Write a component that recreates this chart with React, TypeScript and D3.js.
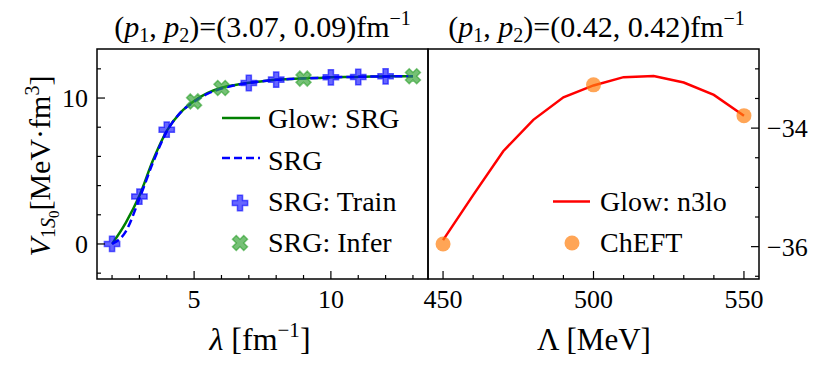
import React from 'react';
import * as d3 from 'd3';

// left panel: SRG evolution of the 1S0 matrix element vs lambda
const lambdaFine = [2, 2.5, 3, 3.5, 4, 4.5, 5, 5.5, 6, 6.5, 7, 7.5, 8, 8.5, 9, 9.5, 10, 10.5, 11, 11.5, 12, 12.5, 13];
const glowSrg = [0, 1.45, 3.3, 5.75, 7.75, 9.0, 9.8, 10.35, 10.7, 10.9, 11.05, 11.15, 11.25, 11.3, 11.35, 11.38, 11.42, 11.44, 11.45, 11.47, 11.48, 11.49, 11.5];
const srgExact = [0, 0.85, 3.1, 5.6, 7.7, 9.0, 9.75, 10.3, 10.65, 10.88, 11.03, 11.15, 11.25, 11.3, 11.34, 11.38, 11.42, 11.44, 11.45, 11.47, 11.48, 11.49, 11.5];
const lambdaPts = [2, 3, 4, 5, 6, 7, 8, 9, 10, 11, 12, 13];
const srgPts = [0, 3.25, 7.83, 9.77, 10.69, 11.03, 11.26, 11.33, 11.42, 11.44, 11.49, 11.49];
const ptSplit = ['train', 'train', 'train', 'infer', 'infer', 'train', 'train', 'infer', 'train', 'train', 'train', 'infer'];

// right panel: cutoff dependence
const cutoffs = [450, 460, 470, 480, 490, 500, 510, 520, 530, 540, 550];
const glowN3lo = [-35.89, -35.13, -34.39, -33.86, -33.48, -33.28, -33.14, -33.12, -33.23, -33.44, -33.79];
const chLam = [450, 500, 550];
const chV = [-35.955, -33.27, -33.79];

// ticks
const xLMajor = [5, 10];
const xLMinor = [2, 3, 4, 6, 7, 8, 9, 11, 12, 13];
const yLMajor = [0, 10];
const yLMinor = [-2, 2, 4, 6, 8, 12];
const xRMajor = [450, 500, 550];
const xRMinor = [460, 470, 480, 490, 510, 520, 530, 540];
const yRMajor = [-36, -34];
const yRMinor = [-36.5, -35.5, -35, -34.5, -33.5, -33];

const W = 831, H = 373;
const top = 49, bot = 279, x0 = 97, mid = 428, x1 = 759;
const font = "'Times New Roman', Times, serif";

const xL = d3.scaleLinear().domain([1.45, 13.55]).range([x0, mid]);
const yL = d3.scaleLinear().domain([-2.4, 13.36]).range([bot, top]);
const xR = d3.scaleLinear().domain([445, 555]).range([mid, x1]);
const yR = d3.scaleLinear().domain([-36.546, -32.665]).range([bot, top]);

const plus = d3.symbol(d3.symbolCross, 130)();
const cross = d3.symbol(d3.symbolCross, 140)();

const App = () => {
  const lineL = d3.line<number>()
    .x((d, i) => xL(lambdaFine[i]))
    .curve(d3.curveMonotoneX);
  const glowPath = lineL.y(d => yL(d))(glowSrg);
  const srgPath = lineL.y(d => yL(d))(srgExact);
  const redPath = d3.line<number>()
    .x((d, i) => xR(cutoffs[i]))
    .y(d => yR(d))(glowN3lo);

  const minus = (v: number) => (v < 0 ? '\u2212' + Math.abs(v) : String(v));

  return (
    <svg width={W} height={H} style={{ position: 'absolute', left: 0, top: 0, fontFamily: font }}>
      <rect width={W} height={H} fill="white" />
      <g>

      {/* titles */}
      <text x={(x0 + mid) / 2} y={37} textAnchor="middle" fontSize={30}>
        (<tspan fontStyle="italic">p</tspan><tspan fontSize={20} dy={5}>1</tspan>
        <tspan dy={-5}>, </tspan><tspan fontStyle="italic">p</tspan><tspan fontSize={20} dy={5}>2</tspan>
        <tspan dy={-5}>)=(3.07, 0.09)fm</tspan><tspan fontSize={20} dy={-12}>{'\u22121'}</tspan>
      </text>
      <text x={(mid + x1) / 2 + 3} y={37} textAnchor="middle" fontSize={30}>
        (<tspan fontStyle="italic">p</tspan><tspan fontSize={20} dy={5}>1</tspan>
        <tspan dy={-5}>, </tspan><tspan fontStyle="italic">p</tspan><tspan fontSize={20} dy={5}>2</tspan>
        <tspan dy={-5}>)=(0.42, 0.42)fm</tspan><tspan fontSize={20} dy={-12}>{'\u22121'}</tspan>
      </text>

      {/* left panel data */}
      <path d={glowPath || ''} fill="none" stroke="green" strokeWidth={2.5} />
      <path d={srgPath || ''} fill="none" stroke="blue" strokeWidth={2.5} strokeDasharray="8,4" />
      {lambdaPts.map((l, i) => (
        ptSplit[i] === 'train'
          ? <path key={'p' + i} d={plus || ''} transform={`translate(${xL(l)},${yL(srgPts[i])})`} fill="blue" fillOpacity={0.6} stroke="blue" strokeOpacity={0.6} strokeWidth={1.5} />
          : <path key={'p' + i} d={cross || ''} transform={`translate(${xL(l)},${yL(srgPts[i])}) rotate(45)`} fill="#2ca02c" fillOpacity={0.65} stroke="#2ca02c" strokeOpacity={0.6} strokeWidth={1.5} />
      ))}

      {/* right panel data */}
      <path d={redPath || ''} fill="none" stroke="red" strokeWidth={2.5} />
      {chLam.map((l, i) => (
        <circle key={'c' + i} cx={xR(l)} cy={yR(chV[i])} r={7.5} fill="#ff7f0e" fillOpacity={0.7} />
      ))}

      {/* frames */}
      <rect x={x0} y={top} width={mid - x0} height={bot - top} fill="none" stroke="black" strokeWidth={1.5} />
      <rect x={mid} y={top} width={x1 - mid} height={bot - top} fill="none" stroke="black" strokeWidth={1.5} />

      {/* ticks */}
      <g stroke="black" strokeWidth={1.2}>
        {xLMajor.map(v => <line key={'xlM' + v} x1={xL(v)} x2={xL(v)} y1={bot} y2={bot - 8} />)}
        {xLMinor.map(v => <line key={'xlm' + v} x1={xL(v)} x2={xL(v)} y1={bot} y2={bot - 4} />)}
        {yLMajor.map(v => <line key={'ylM' + v} x1={x0} x2={x0 + 8} y1={yL(v)} y2={yL(v)} />)}
        {yLMinor.map(v => <line key={'ylm' + v} x1={x0} x2={x0 + 4} y1={yL(v)} y2={yL(v)} />)}
        {xRMajor.map(v => <line key={'xrM' + v} x1={xR(v)} x2={xR(v)} y1={bot} y2={bot - 8} />)}
        {xRMinor.map(v => <line key={'xrm' + v} x1={xR(v)} x2={xR(v)} y1={bot} y2={bot - 4} />)}
        {yRMajor.map(v => <line key={'yrM' + v} x1={x1} x2={x1 - 8} y1={yR(v)} y2={yR(v)} />)}
        {yRMinor.map(v => <line key={'yrm' + v} x1={x1} x2={x1 - 4} y1={yR(v)} y2={yR(v)} />)}
      </g>

      {/* tick labels */}
      <g fontSize={26}>
        {xLMajor.map(v => <text key={'xlt' + v} x={xL(v)} y={308} textAnchor="middle">{v}</text>)}
        {xRMajor.map(v => <text key={'xrt' + v} x={xR(v)} y={308} textAnchor="middle">{v}</text>)}
        {yLMajor.map(v => <text key={'ylt' + v} x={88} y={yL(v) + 9} textAnchor="end">{v}</text>)}
        {yRMajor.map(v => <text key={'yrt' + v} x={767} y={yR(v) + 9} textAnchor="start">{minus(v)}</text>)}
      </g>

      {/* axis labels */}
      <text x={260} y={350} textAnchor="middle" fontSize={32}>
        <tspan fontStyle="italic">{'\u03bb'}</tspan> [fm<tspan fontSize={21} dy={-13}>{'\u22121'}</tspan><tspan dy={13}>]</tspan>
      </text>
      <text x={594} y={350} textAnchor="middle" fontSize={31}>
        {'\u039b'} [MeV]
      </text>
      <text transform="translate(50,166) rotate(-90)" textAnchor="middle" fontSize={30}>
        <tspan fontStyle="italic">V</tspan>
        <tspan fontSize={20} dy={5}>1</tspan><tspan fontSize={20} fontStyle="italic">S</tspan>
        <tspan fontSize={15} dy={4}>0</tspan>
        <tspan dy={-9}>[MeV{'\u00b7'}fm</tspan><tspan fontSize={20} dy={-11}>3</tspan><tspan dy={11}>]</tspan>
      </text>

      {/* left legend */}
      <g fontSize={28}>
        <line x1={222} x2={260} y1={118} y2={118} stroke="green" strokeWidth={2.5} />
        <text x={268} y={128}>Glow: SRG</text>
        <line x1={222} x2={260} y1={158} y2={158} stroke="blue" strokeWidth={2.5} strokeDasharray="8,4" />
        <text x={268} y={170}>SRG</text>
        <path d={plus || ''} transform="translate(240,203)" fill="blue" fillOpacity={0.6} stroke="blue" strokeOpacity={0.6} strokeWidth={1.5} />
        <text x={268} y={211}>SRG: Train</text>
        <path d={cross || ''} transform="translate(240,243) rotate(45)" fill="#2ca02c" fillOpacity={0.65} stroke="#2ca02c" strokeOpacity={0.6} strokeWidth={1.5} />
        <text x={268} y={252}>SRG: Infer</text>
      </g>

      {/* right legend */}
      <g fontSize={28}>
        <line x1={553} x2={590} y1={201.5} y2={201.5} stroke="red" strokeWidth={2.5} />
        <text x={600} y={211}>Glow: n3lo</text>
        <circle cx={572} cy={243} r={7.5} fill="#ff7f0e" fillOpacity={0.7} />
        <text x={600} y={252}>ChEFT</text>
      </g>
      </g>
    </svg>
  );
};

export default App;
